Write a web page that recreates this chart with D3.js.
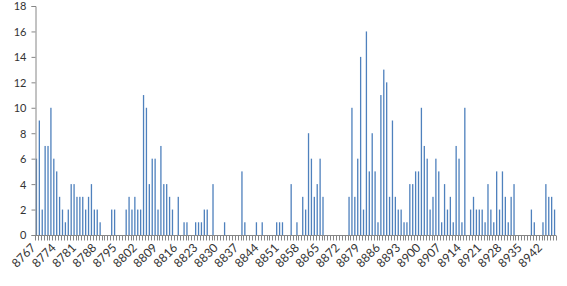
<!DOCTYPE html>
<html>
<head>
<meta charset="utf-8">
<script src="https://cdnjs.cloudflare.com/ajax/libs/d3/7.8.5/d3.min.js"></script>
<style>
    body { margin: 0; background: #fff; }
    svg text { font-family: Lato, "Open Sans", sans-serif; font-size: 11px; fill: #333; }
</style>
</head>
<body>
<div id="chart"></div>
<script>
const firstId = 8767;
const counts = [
    6, 9, 2, 7, 7, 10, 6, 5, 3, 2, 1, 2, 4, 4, 3, 3, 3, 2, 3, 4,
    2, 2, 1, 0, 0, 0, 2, 2, 0, 0, 0, 2, 3, 2, 3, 2, 2, 11, 10, 4,
    6, 6, 2, 7, 4, 4, 3, 2, 0, 3, 0, 1, 1, 0, 0, 1, 1, 1, 2, 2,
    0, 4, 0, 0, 0, 1, 0, 0, 0, 0, 0, 5, 1, 0, 0, 0, 1, 0, 1, 0,
    0, 0, 0, 1, 1, 1, 0, 0, 4, 0, 1, 0, 3, 2, 8, 6, 3, 4, 6, 3,
    0, 0, 0, 0, 0, 0, 0, 0, 3, 10, 3, 6, 14, 2, 16, 5, 8, 5, 1, 11,
    13, 12, 3, 9, 3, 2, 2, 1, 1, 4, 4, 5, 5, 10, 7, 6, 2, 3, 6, 5,
    1, 4, 2, 3, 1, 7, 6, 1, 10, 0, 2, 3, 2, 2, 2, 1, 4, 2, 1, 5,
    2, 5, 3, 1, 3, 4, 0, 0, 0, 0, 0, 2, 1, 0, 0, 1, 4, 3, 3, 2
];
const categories = counts.map((_, i) => String(firstId + i));
const tickLabels = categories.filter((_, i) => i % 7 === 0);
const yTicks = [0, 2, 4, 6, 8, 10, 12, 14, 16, 18];

const width = 567, height = 286;
const margin = { top: 6, right: 11, bottom: 51, left: 35 };

const svg = d3.select("#chart").append("svg")
    .attr("width", width)
    .attr("height", height);

const x = d3.scaleBand()
    .domain(categories)
    .range([margin.left, width - margin.right])
    .paddingInner(0.55)
    .paddingOuter(0.275);

const y = d3.scaleLinear()
    .domain([0, 18])
    .range([height - margin.bottom, margin.top]);

// bars
svg.append("g")
    .selectAll("rect")
    .data(counts)
    .enter().append("rect")
    .attr("x", (d, i) => x(categories[i]))
    .attr("y", d => y(d))
    .attr("width", x.bandwidth())
    .attr("height", d => y(0) - y(d))
    .attr("fill", "#4f81bd");

// y axis
const yAxis = svg.append("g")
    .attr("transform", `translate(${margin.left + 0.5},0)`)
    .call(d3.axisLeft(y).tickValues(yTicks).tickSize(4).tickPadding(5));
yAxis.select(".domain").attr("stroke", "#868686");
yAxis.selectAll(".tick line").attr("stroke", "#868686");
yAxis.selectAll("text").attr("dy", "0.36em");

// x axis: a tick mark between every category, labels every 7th
const baseY = y(0) + 0.5;
const bounds = d3.range(categories.length + 1)
    .map(k => x.range()[0] + k * x.step());

svg.append("line")
    .attr("x1", x.range()[0]).attr("x2", x.range()[1])
    .attr("y1", baseY).attr("y2", baseY)
    .attr("stroke", "#868686");

svg.append("g")
    .selectAll("line")
    .data(bounds)
    .enter().append("line")
    .attr("x1", d => Math.round(d) + 0.5)
    .attr("x2", d => Math.round(d) + 0.5)
    .attr("y1", baseY)
    .attr("y2", baseY + 5)
    .attr("stroke", "#868686");

svg.append("g")
    .selectAll("text")
    .data(tickLabels)
    .enter().append("text")
    .attr("transform", d => `translate(${x(d) + x.bandwidth() / 2},${baseY + 13}) rotate(-45)`)
    .attr("text-anchor", "end")
    .style("font-size", "12px")
    .text(d => d);
</script>
</body>
</html>
